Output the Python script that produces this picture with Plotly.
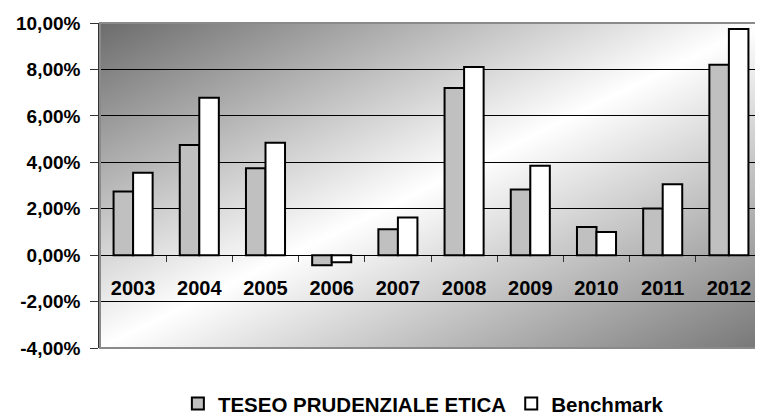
"""Rendimenti annui TESEO Prudenziale Etica vs Benchmark (istogramma)."""
import base64
import plotly.graph_objects as go

ANNI = ["2003", "2004", "2005", "2006", "2007", "2008", "2009", "2010", "2011", "2012"]
TESEO = [2.74, 4.75, 3.74, -0.43, 1.12, 7.20, 2.83, 1.21, 2.01, 8.20]
BENCHMARK = [3.55, 6.78, 4.84, -0.31, 1.62, 8.10, 3.85, 1.00, 3.05, 9.74]
Y_TICKS = [-4, -2, 0, 2, 4, 6, 8, 10]
Y_TICK_LABELS = ["-4,00%", "-2,00%", "0,00%", "2,00%", "4,00%", "6,00%", "8,00%", "10,00%"]

GRIGIO_BARRA = "#C0C0C0"
FONT = "Liberation Sans, Arial, sans-serif"

# sfondo sfumato in diagonale (scuro -> bianco -> scuro), come nell'originale Excel
SVG_SFONDO = """<svg xmlns='http://www.w3.org/2000/svg' viewBox='0 0 100 100' preserveAspectRatio='none'>
<defs><linearGradient id='g' x1='0' y1='0' x2='1' y2='1'>
<stop offset='0' stop-color='#6c6c6c'/><stop offset='0.5' stop-color='#ffffff'/>
<stop offset='1' stop-color='#777777'/></linearGradient></defs>
<rect width='100' height='100' fill='url(#g)'/></svg>"""
sfondo_uri = "data:image/svg+xml;base64," + base64.b64encode(SVG_SFONDO.encode()).decode()

fig = go.Figure()
for nome, valori, colore in [
    ("TESEO PRUDENZIALE ETICA", TESEO, GRIGIO_BARRA),
    ("Benchmark", BENCHMARK, "#FFFFFF"),
]:
    fig.add_trace(go.Bar(
        x=ANNI, y=valori, name=nome,
        marker=dict(color=colore, line=dict(color="#000000", width=2)),
        hovertemplate="%{x}: %{y:.2f}%<extra>" + nome + "</extra>",
    ))

y_min, y_max = Y_TICKS[0], Y_TICKS[-1]

# la pagina ha 8px di margine sul body: la figura occupa 755x408
fig.update_layout(
    width=755, height=408,
    margin=dict(l=92, r=1, t=15, b=68, autoexpand=False),
    paper_bgcolor="white", plot_bgcolor="white",
    barmode="group", bargap=0.41, bargroupgap=0,
    font=dict(family=FONT, color="#000000"),
    images=[dict(
        source=sfondo_uri, xref="paper", yref="paper", x=0, y=1,
        sizex=1, sizey=1, sizing="stretch", layer="below",
    )],
    shapes=[dict(
        type="rect", xref="paper", yref="paper", x0=0, y0=0, x1=1, y1=1,
        line=dict(color="#8a8a8a", width=2), layer="above",
    )],
    xaxis=dict(
        type="category", anchor="free", position=(0 - y_min) / (y_max - y_min),
        showline=True, linecolor="#000000", linewidth=1,
        ticks="outside", tickson="boundaries", ticklen=6, tickcolor="#333333",
        tickfont=dict(family=FONT, size=20, weight="bold"),
        ticklabelstandoff=15, showgrid=False, automargin=False,
    ),
    yaxis=dict(
        range=[y_min, y_max], tickvals=Y_TICKS, ticktext=Y_TICK_LABELS,
        showline=True, linecolor="#333333", linewidth=1.5,
        ticks="outside", ticklen=8, tickcolor="#333333",
        tickfont=dict(family=FONT, size=19, weight="bold"),
        ticklabelstandoff=6, automargin=False,
        gridcolor="#000000", gridwidth=1, zeroline=False,
    ),
    legend=dict(
        orientation="h", xref="container", yref="container",
        x=0.225, xanchor="left", y=0.03, yanchor="middle",
        font=dict(family=FONT, size=20.5, weight="bold"),
        bgcolor="rgba(0,0,0,0)", itemwidth=30, traceorder="normal",
    ),
)

fig.write_html("out.html")
